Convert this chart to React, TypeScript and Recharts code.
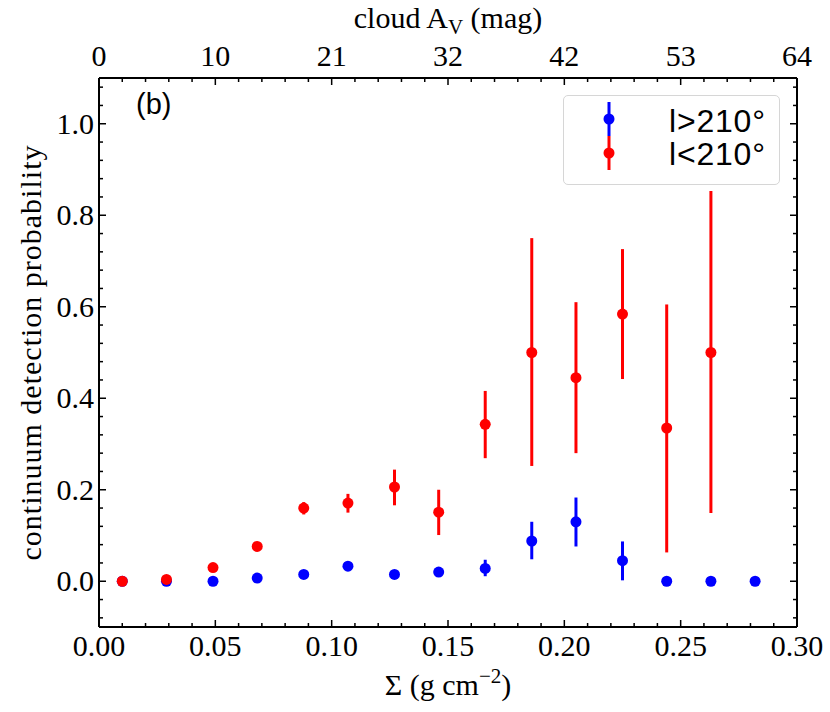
import React from 'react';
import { ScatterChart, Scatter, XAxis, YAxis, ErrorBar, Label } from 'recharts';

// bin centres in surface density (g cm^-2)
const SIGMA = [0.01, 0.029, 0.049, 0.068, 0.088, 0.107, 0.127, 0.146, 0.166, 0.186, 0.205, 0.225, 0.244, 0.263, 0.282];

// l > 210 deg (blue)
const OUTER_P = [0, 0, 0, 0.007, 0.015, 0.033, 0.015, 0.02, 0.028, 0.088, 0.13, 0.045, 0, 0, 0];
const OUTER_LO = [0, 0, 0, 0.002, 0.003, 0.004, 0.003, 0.005, 0.017, 0.04, 0.054, 0.043, 0, 0, 0];
const OUTER_HI = [0, 0, 0.002, 0.002, 0.003, 0.004, 0.003, 0.006, 0.019, 0.042, 0.053, 0.042, 0, 0, 0];

// l < 210 deg (red), no point in the last bin
const INNER_P = [0, 0.004, 0.03, 0.076, 0.16, 0.171, 0.206, 0.151, 0.343, 0.5, 0.445, 0.584, 0.335, 0.5];
const INNER_LO = [0, 0.002, 0.003, 0.004, 0.014, 0.021, 0.04, 0.05, 0.074, 0.248, 0.165, 0.142, 0.272, 0.351];
const INNER_HI = [0, 0.002, 0.003, 0.004, 0.013, 0.02, 0.038, 0.049, 0.073, 0.25, 0.165, 0.142, 0.27, 0.353];

const X_MAJOR = [0, 0.05, 0.1, 0.15, 0.2, 0.25, 0.3];
const X_MINOR = [0.01, 0.02, 0.03, 0.04, 0.06, 0.07, 0.08, 0.09, 0.11, 0.12, 0.13, 0.14, 0.16, 0.17, 0.18, 0.19, 0.21, 0.22, 0.23, 0.24, 0.26, 0.27, 0.28, 0.29];
const AV_LABELS = ['0', '10', '21', '32', '42', '53', '64'];

const Y_MAJOR = [0, 0.2, 0.4, 0.6, 0.8, 1.0];
const Y_MINOR = [-0.08, -0.04, 0.04, 0.08, 0.12, 0.16, 0.24, 0.28, 0.32, 0.36, 0.44, 0.48, 0.52, 0.56, 0.64, 0.68, 0.72, 0.76, 0.84, 0.88, 0.92, 0.96, 1.04, 1.08];

const X_TICKS = [...X_MAJOR, ...X_MINOR].sort((a, b) => a - b);
const Y_TICKS = [...Y_MAJOR, ...Y_MINOR].sort((a, b) => a - b);

const BLUE = '#0000ff';
const RED = '#ff0000';
const SERIF = "'Liberation Serif', 'DejaVu Serif', serif";
const SANS = "'Liberation Sans', Arial, sans-serif";
const MAJOR_LEN = 7;
const MINOR_LEN = 4;

const outerData = SIGMA.map((x, i) => ({ x, y: OUTER_P[i], err: [OUTER_LO[i], OUTER_HI[i]] }));
const innerData = INNER_P.map((y, i) => ({ x: SIGMA[i], y, err: [INNER_LO[i], INNER_HI[i]] }));

const tickText = { fontFamily: SERIF, fontSize: 30, fill: '#000' };

function BottomTick({ x, y, payload }: any) {
  const idx = X_MAJOR.indexOf(payload.value);
  return (
    <g>
      <line x1={x} x2={x} y1={y} y2={y - (idx >= 0 ? MAJOR_LEN : MINOR_LEN)} stroke="#000" strokeWidth={1.5} />
      {idx >= 0 && (
        <text x={x} y={y + 29} textAnchor="middle" {...tickText}>
          {payload.value.toFixed(2)}
        </text>
      )}
    </g>
  );
}

function TopTick({ x, y, payload }: any) {
  const idx = X_MAJOR.indexOf(payload.value);
  return (
    <g>
      <line x1={x} x2={x} y1={y} y2={y + (idx >= 0 ? MAJOR_LEN : MINOR_LEN)} stroke="#000" strokeWidth={1.5} />
      {idx >= 0 && (
        <text x={x} y={y - 12} textAnchor="middle" {...tickText}>
          {AV_LABELS[idx]}
        </text>
      )}
    </g>
  );
}

function LeftTick({ x, y, payload }: any) {
  const major = Y_MAJOR.includes(payload.value);
  return (
    <g>
      <line x1={x} x2={x + (major ? MAJOR_LEN : MINOR_LEN)} y1={y} y2={y} stroke="#000" strokeWidth={1.5} />
      {major && (
        <text x={x - 5} y={y + 10} textAnchor="end" {...tickText}>
          {payload.value.toFixed(1)}
        </text>
      )}
    </g>
  );
}

function RightTick({ x, y, payload }: any) {
  const major = Y_MAJOR.includes(payload.value);
  return <line x1={x} x2={x - (major ? MAJOR_LEN : MINOR_LEN)} y1={y} y2={y} stroke="#000" strokeWidth={1.5} />;
}

const Dot = (color: string) => (p: any) => <circle cx={p.cx} cy={p.cy} r={5.5} fill={color} />;
const NoDot = () => <g />;

function LegendBox() {
  const rows = [
    { color: BLUE, text: 'l>210°' },
    { color: RED, text: 'l<210°' },
  ];
  return (
    <div
      style={{
        position: 'absolute',
        left: 563,
        top: 95,
        width: 217,
        height: 90,
        boxSizing: 'border-box',
        border: '1.5px solid #d6d6d6',
        borderRadius: 5,
        background: 'rgba(255,255,255,0.8)',
      }}
    >
      <svg width={217} height={90} style={{ position: 'absolute', left: -1.5, top: -1.5 }}>
        {rows.map((r, i) => (
          <g key={r.text}>
            <line x1={46} x2={46} y1={7 + i * 34} y2={41 + i * 34} stroke={r.color} strokeWidth={3} />
            <circle cx={46} cy={24 + i * 34} r={5.5} fill={r.color} />
            <text x={106} y={37 + i * 33} fontFamily={SANS} fontSize={32} letterSpacing={0.8} fill="#000">
              {r.text}
            </text>
          </g>
        ))}
      </svg>
    </div>
  );
}

export default function App() {
  return (
    <div style={{ position: 'absolute', left: 0, top: 0, width: 830, height: 712, background: '#fff' }}>
      <ScatterChart width={830} height={712} margin={{ top: 0, right: 0, bottom: 0, left: 0 }}>
        <XAxis
          xAxisId="bottom"
          type="number"
          dataKey="x"
          orientation="bottom"
          domain={[0, 0.3]}
          allowDataOverflow
          ticks={X_TICKS}
          interval={0}
          height={85}
          tickSize={0}
          tickMargin={0}
          tickLine={false}
          tick={<BottomTick />}
          axisLine={{ stroke: '#000', strokeWidth: 2 }}
        >
          <Label
            content={({ viewBox }: any) => (
              <text x={viewBox.x + viewBox.width / 2} y={viewBox.y + 68} textAnchor="middle" fontFamily={SERIF} fontSize={30} fill="#000">
                Σ (g cm
                <tspan dy={-12} fontSize={21}>
                  −2
                </tspan>
                <tspan dy={12}>)</tspan>
              </text>
            )}
          />
        </XAxis>
        <XAxis
          xAxisId="top"
          type="number"
          dataKey="x"
          orientation="top"
          domain={[0, 0.3]}
          allowDataOverflow
          ticks={X_TICKS}
          interval={0}
          height={78}
          tickSize={0}
          tickMargin={0}
          tickLine={false}
          tick={<TopTick />}
          axisLine={{ stroke: '#000', strokeWidth: 2 }}
        >
          <Label
            content={({ viewBox }: any) => (
              <text x={viewBox.x + viewBox.width / 2} y={28} textAnchor="middle" fontFamily={SERIF} fontSize={30} fill="#000">
                cloud A
                <tspan dy={6} fontSize={21}>
                  V
                </tspan>
                <tspan dy={-6}> (mag)</tspan>
              </text>
            )}
          />
        </XAxis>
        <YAxis
          yAxisId="left"
          type="number"
          dataKey="y"
          orientation="left"
          domain={[-0.1, 1.1]}
          allowDataOverflow
          ticks={Y_TICKS}
          interval={0}
          width={99}
          tickSize={0}
          tickMargin={0}
          tickLine={false}
          tick={<LeftTick />}
          axisLine={{ stroke: '#000', strokeWidth: 2 }}
        >
          <Label
            content={({ viewBox }: any) => {
              const cy = viewBox.y + viewBox.height / 2;
              return (
                <text
                  x={41}
                  y={cy}
                  transform={`rotate(-90 41 ${cy})`}
                  textAnchor="middle"
                  fontFamily={SERIF}
                  fontSize={30}
                  letterSpacing={1}
                  fill="#000"
                >
                  continuum detection probability
                </text>
              );
            }}
          />
        </YAxis>
        <YAxis
          yAxisId="right"
          type="number"
          dataKey="y"
          orientation="right"
          domain={[-0.1, 1.1]}
          allowDataOverflow
          ticks={Y_TICKS}
          interval={0}
          width={33}
          tickSize={0}
          tickMargin={0}
          tickLine={false}
          tick={<RightTick />}
          axisLine={{ stroke: '#000', strokeWidth: 2 }}
        />
        {/* invisible series so the top and right axes get their scales */}
        <Scatter data={outerData} xAxisId="top" yAxisId="right" shape={NoDot} legendType="none" isAnimationActive={false} />
        <Scatter name="l>210°" data={outerData} xAxisId="bottom" yAxisId="left" shape={Dot(BLUE)} isAnimationActive={false}>
          <ErrorBar dataKey="err" direction="y" width={0} stroke={BLUE} strokeWidth={3} isAnimationActive={false} />
        </Scatter>
        <Scatter name="l<210°" data={innerData} xAxisId="bottom" yAxisId="left" shape={Dot(RED)} isAnimationActive={false}>
          <ErrorBar dataKey="err" direction="y" width={0} stroke={RED} strokeWidth={3} isAnimationActive={false} />
        </Scatter>
      </ScatterChart>
      <div style={{ position: 'absolute', left: 136, top: 86, fontFamily: SANS, fontSize: 29, lineHeight: '36px', color: '#000' }}>(b)</div>
      <LegendBox />
    </div>
  );
}
